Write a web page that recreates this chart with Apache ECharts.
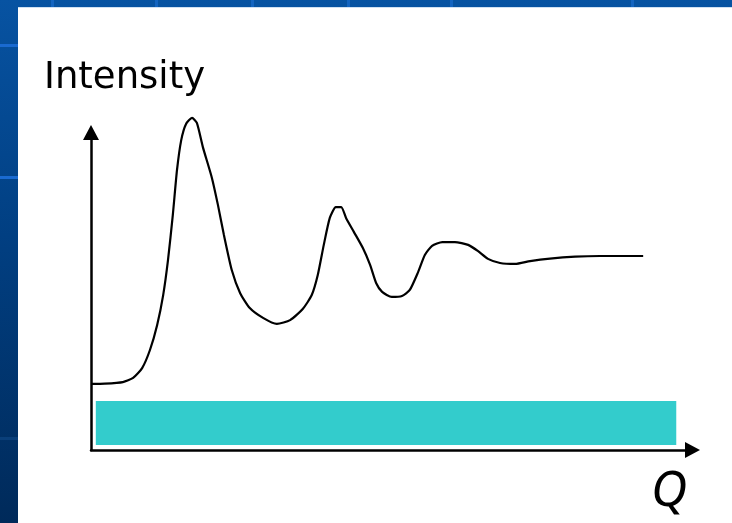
<!DOCTYPE html>
<html>
<head>
<meta charset="utf-8">
<script src="https://cdn.jsdelivr.net/npm/echarts@6/dist/echarts.min.js"></script>
<style>
  html, body { margin: 0; padding: 0; }
  body {
    width: 732px; height: 523px; overflow: hidden; position: relative;
    background: linear-gradient(to bottom, #0753a2 0%, #013f82 45%, #002a5a 100%);
  }
  .panel { position: absolute; left: 18px; top: 7px; right: 0; bottom: 0; background: #fff; border-top: 1px solid #cfe0f2; }
  .vl { position: absolute; top: 0; width: 3px; height: 7px; background: #1364c0; }
  .hl { position: absolute; left: 0; width: 18px; height: 3px; background: #1a6ad0; }
  #chart { position: absolute; left: 0; top: 0; width: 732px; height: 523px; }
</style>
</head>
<body>
<div class="vl" style="left:51px"></div>
<div class="vl" style="left:155px"></div>
<div class="vl" style="left:251px"></div>
<div class="vl" style="left:347px"></div>
<div class="vl" style="left:450px"></div>
<div class="vl" style="left:631px"></div>
<div class="hl" style="top:44px"></div>
<div class="hl" style="top:176px"></div>
<div class="hl" style="top:437px;background:#0a3f7a"></div>
<div class="panel"></div>
<div id="chart"></div>
<script>
// sketch of a scattering curve: Q (arbitrary units) vs intensity
var qValues = [0, 2.3, 5.3, 7.0, 8.5, 9.8, 11.0, 12.0, 12.8, 13.6, 14.3, 15.0, 15.8, 16.8, 17.6,
  18.6, 20.1, 21.1, 22.1, 23.4, 24.8, 26.4, 28.6, 30.9, 33.1, 35.2, 36.7, 37.7, 38.7,
  39.7, 40.7, 41.6, 42.4, 43.7, 45.2, 46.4, 47.4, 48.4, 50.0, 51.7, 53.0, 54.4, 55.5,
  56.7, 58.4, 60.5, 62.7, 64.3, 66.0, 68.0, 70.5, 73.0, 76.3, 80.5, 84.6, 91.8];
var intensity = [20.8, 20.9, 21.4, 22.7, 25.8, 31.5, 39.4, 48.8, 59.8, 74.0, 88.2, 97.6, 102.7, 104.6, 103.0,
  95.4, 85.7, 77.2, 67.7, 56.7, 49.4, 44.7, 41.6, 39.7, 40.9, 44.4, 48.8, 55.1, 64.6,
  73.1, 76.5, 76.5, 73.1, 68.7, 63.6, 58.3, 52.6, 49.8, 48.2, 48.5, 50.4, 56.1, 61.4,
  64.3, 65.5, 65.5, 64.6, 62.7, 60.2, 58.9, 58.6, 59.5, 60.3, 60.9, 61.1, 61.1];
// the flat coloured band under the curve: [q0, i0], [q1, i1]
var band = [[0.8, 1.6], [97.3, 15.4]];

var chart = echarts.init(document.getElementById('chart'));

var points = qValues.map(function (q, i) { return [q, intensity[i]]; });

chart.setOption({
  animation: false,
  backgroundColor: 'transparent',
  title: [{
    text: 'Intensity',
    left: 39, top: 55,
    textStyle: { fontFamily: 'DejaVu Sans', fontSize: 37, fontWeight: 'normal', color: '#000' }
  }, {
    text: 'Q',
    left: 646, top: 462,
    textStyle: { fontFamily: 'Noto Sans', fontStyle: 'italic', fontSize: 50, fontWeight: 'normal', color: '#000' }
  }],
  grid: { left: 91, right: 39.5, top: 132.5, bottom: 73 },
  xAxis: {
    type: 'value', min: 0, max: 100,
    axisLine: { show: true, symbol: ['none', 'triangle'], symbolSize: [16, 15], lineStyle: { color: '#000', width: 2.5 } },
    axisTick: { show: false }, axisLabel: { show: false }, splitLine: { show: false }
  },
  yAxis: {
    type: 'value', min: 0, max: 100,
    axisLine: { show: true, symbol: ['none', 'triangle'], symbolSize: [16, 15], lineStyle: { color: '#000', width: 2.5 } },
    axisTick: { show: false }, axisLabel: { show: false }, splitLine: { show: false }
  },
  series: [{
    type: 'line',
    data: points,
    smooth: 0.2,
    clip: false,
    showSymbol: false,
    lineStyle: { color: '#000', width: 2.2 },
    markArea: {
      silent: true,
      itemStyle: { color: '#33cccc', opacity: 1 },
      data: [[{ coord: band[0] }, { coord: band[1] }]]
    }
  }]
});
</script>
</body>
</html>
